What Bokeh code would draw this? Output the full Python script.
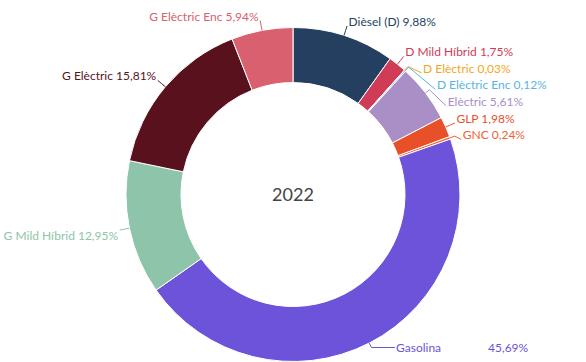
import math
from bokeh.plotting import figure
from bokeh.models import Range1d
from bokeh.core.properties import value
from bokeh.embed import file_html
from bokeh.resources import INLINE

# ---- data ----
categories = ["Dièsel (D)", "D Mild Híbrid", "D Elèctric", "D Elèctric Enc", "Elèctric",
              "GLP", "GNC", "Gasolina", "G Mild Híbrid", "G Elèctric", "G Elèctric Enc"]
shares = [9.88, 1.75, 0.03, 0.12, 5.61, 1.98, 0.24, 45.69, 12.95, 15.81, 5.94]
colors = ["#243f5f", "#d03c56", "#f4a622", "#5ab3e6", "#a98fc6",
          "#e8502a", "#ef6233", "#6c53d9", "#8ec4a9", "#5a111e", "#d9606e"]
year_label = "2022"

# ---- layout ----
W, H = 586, 362
cx, cy = 292.5, H - 194.0
R_OUT, R_IN = 167.0, 112.0
LABEL_R = R_OUT + 10
ELBOW_R = R_OUT + 5
SPACING = 16.5
BOTTOM_LIMIT = H - 347
FONT = "Lato"

p = figure(width=W, height=H, output_backend="svg", toolbar_location=None,
           x_range=Range1d(0, W), y_range=Range1d(0, H), min_border=0)
p.axis.visible = False
p.grid.visible = False
p.outline_line_color = None
p.background_fill_color = "white"
p.border_fill_color = "white"

total = sum(shares)
starts, ends, mids = [], [], []
acc = 0.0
for s in shares:
    a0 = acc / total * 2 * math.pi
    acc += s
    a1 = acc / total * 2 * math.pi
    starts.append(math.pi / 2 - a0)
    ends.append(math.pi / 2 - a1)
    mids.append((a0 + a1) / 2)

p.annular_wedge(x=cx, y=cy, inner_radius=R_IN, outer_radius=R_OUT,
                start_angle=starts, end_angle=ends, direction="clock",
                fill_color=colors, line_color="white", line_width=1)

# ---- label placement ----
def pt(theta, r):
    return cx + r * math.sin(theta), cy + r * math.cos(theta)

ideal = [pt(t, LABEL_R) for t in mids]
right = [i for i, t in enumerate(mids) if t < math.pi]
left = [i for i, t in enumerate(mids) if t >= math.pi]

label_y, clamped = {}, set()
for side in (right, left):
    order = sorted(side, key=lambda i: -ideal[i][1])
    prev = None
    for i in order:
        y = ideal[i][1]
        if prev is not None:
            y = min(y, prev - SPACING)
        if y < BOTTOM_LIMIT:
            y = BOTTOM_LIMIT
            clamped.add(i)
        label_y[i] = y
        prev = y

fmt = lambda v: f"{v:.2f}".replace(".", ",") + "%"

lx, ly, txt, tcol, talign = [], [], [], [], []
xs, ys = [], []
for i, t in enumerate(mids):
    y = label_y[i]
    dy = y - cy
    sgn = 1 if t < math.pi else -1
    if abs(dy) < LABEL_R:
        x = cx + sgn * math.sqrt(LABEL_R ** 2 - dy ** 2)
    else:
        x = ideal[i][0]
    if i in clamped:
        x += sgn * 13
        toff = 0
    else:
        toff = 4.5 if y > cy else -5
    ax, ay = pt(t, R_OUT)
    ex, ey = pt(t, ELBOW_R)
    xs.append([ax, ex, x])
    ys.append([ay, ey, y])
    if categories[i] == "Gasolina":
        lx += [x + 1, x + 93]
        ly += [y + toff, y + toff]
        txt += [categories[i], fmt(shares[i])]
        tcol += [colors[i], colors[i]]
        talign += ["left", "left"]
    else:
        lx.append(x + sgn * 1.5)
        ly.append(y + toff)
        txt.append(f"{categories[i]} {fmt(shares[i])}")
        tcol.append(colors[i])
        talign.append("left" if sgn > 0 else "right")

p.multi_line(xs=xs, ys=ys, line_color=colors, line_width=1)
p.text(x=lx, y=ly, text=txt, text_color=tcol, text_align=talign,
       text_baseline="middle", text_font=value(FONT), text_font_size="12px")

p.text(x=[cx], y=[cy], text=[year_label], text_align="center", text_baseline="middle",
       text_font=value(FONT), text_font_size="18px", text_color="#444444")

open("out.html", "w").write(file_html(p, INLINE))
